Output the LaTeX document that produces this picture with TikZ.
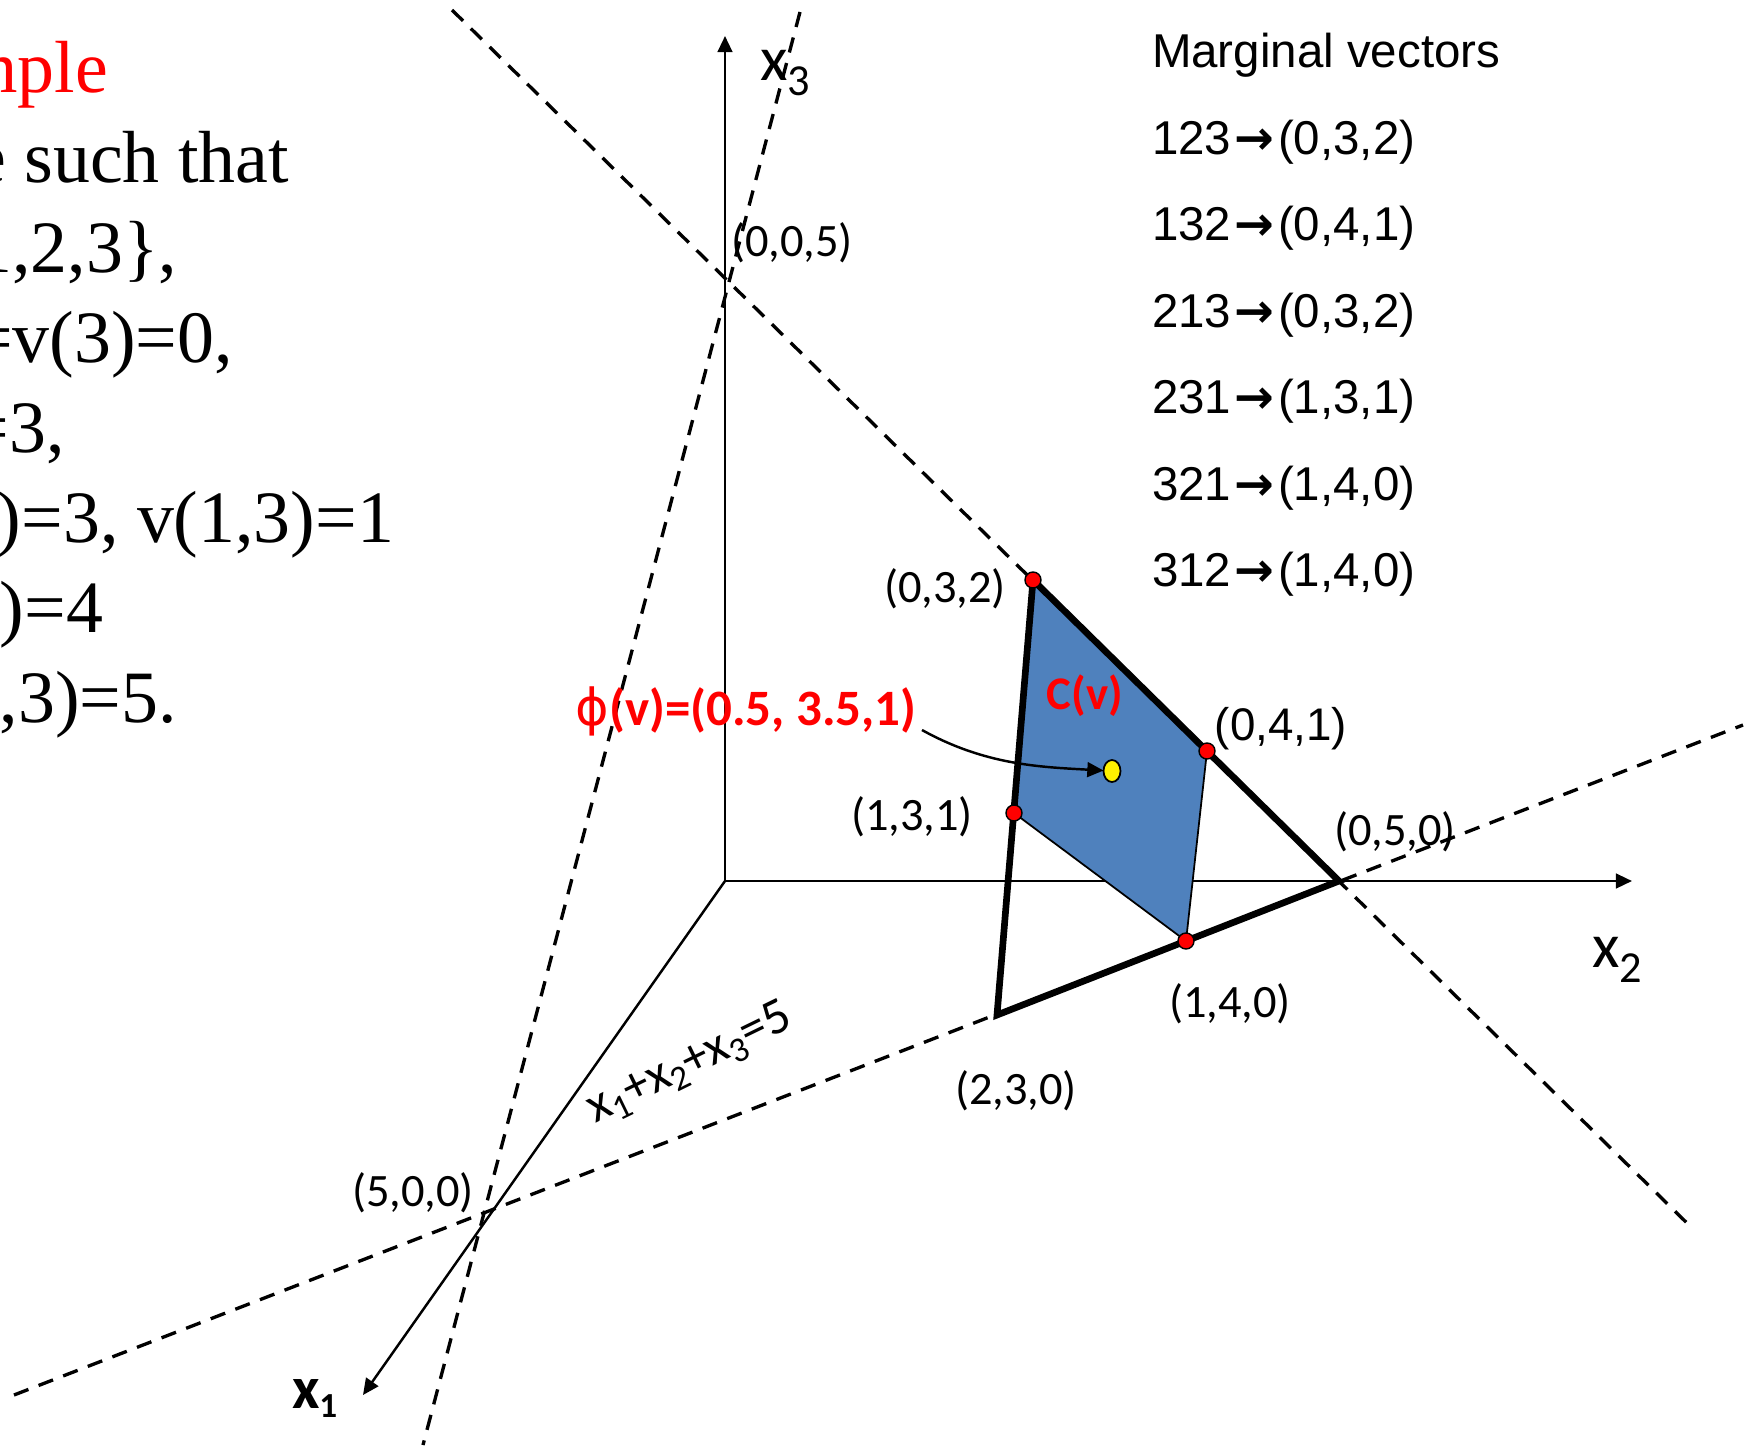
\documentclass[tikz,border=0pt]{standalone}
\usepackage{fontspec}
\setmainfont{Carlito}
\newfontfamily\serifrm{Liberation Serif}
\newfontfamily\arialrm{Liberation Sans}
\newfontfamily\symrm{DejaVu Sans}
\usetikzlibrary{arrows.meta, shapes.geometric}
\definecolor{core-blue}{HTML}{4F81BD}
\definecolor{title-red}{HTML}{FF0000}
\newcommand{\axsub}[3]{\raisebox{#1}{\fontsize{#2}{#2}\selectfont #3}}
\newcommand{\mvarrow}{\kern1pt{\symrm\bfseries →}\kern1pt}

\begin{document}
\begin{tikzpicture}[x=0.01cm, y=-0.01cm,
      every node/.style={inner sep=0pt, outer sep=0pt},
      axis/.style={line width=0.7pt, -{Triangle[length=4.6pt, width=4.2pt]}},
      plane/.style={line width=0.95pt, dash pattern=on 4.4pt off 3.1pt},
      edge/.style={line width=1.9pt},
      vertex/.style={circle, draw, fill=red, line width=0.4pt, minimum size=0.16cm},
      point/.style={font=\fontsize{13.2}{15}\selectfont},
      margvec/.style={anchor=base west, font=\arialrm\fontsize{13.5}{16}\selectfont},
      game/.style={anchor=base east, font=\serifrm\fontsize{21}{25}\selectfont}]
    \useasboundingbox (0,0) rectangle (1754,1448);
    \clip (0,0) rectangle (1754,1448);
    % ---- Game text (cut off at the left edge)
    \node[game, text=title-red] (title) at (108,92) {mple};
    \node[game] (g1) at (289,182) {e such that};
    \node[game] (g2) at (177,272) {1,2,3\},};
    \node[game] (g3) at (233,362) {=v(3)=0,};
    \node[game] (g4) at (65,452) {=3,};
    \node[game] (g5) at (394,542) {)=3, v(1,3)=1};
    \node[game] (g6) at (103,632) {)=4};
    \node[game] (g7) at (177,722) {,3)=5.};
    % ---- Axes
    \coordinate (O) at (725,881);
    \coordinate (e1) at (363,1395);
    \coordinate (e2) at (1632,881);
    \coordinate (e3) at (725,36);
    \draw[axis] (O) -- (e1);
    \draw[axis] (O) -- (e2);
    \draw[axis] (O) -- (e3);
    \node[anchor=base west, font=\fontsize{18}{20}\selectfont] (x3) at (760,80) {x\axsub{-4.3pt}{12.6}{3}};
    \node[anchor=base west, font=\fontsize{18}{20}\selectfont] (x2) at (1592,967) {x\axsub{-4.3pt}{12.6}{2}};
    \node[anchor=base west, font=\bfseries\fontsize{17}{20}\selectfont] (x1) at (292,1408) {x\axsub{-2.8pt}{10}{1}};
    % ---- Plane x1+x2+x3=5
    \coordinate (l1a) at (800,12);
    \coordinate (l1b) at (423,1445);
    \coordinate (l2a) at (452,10);
    \coordinate (l2b) at (1691,1227);
    \coordinate (l3a) at (14,1395);
    \coordinate (l3b) at (1743,725);
    \draw[plane] (l1a) -- (l1b);
    \draw[plane] (l2a) -- (l2b);
    \draw[plane] (l3a) -- (l3b);
    \node[rotate=26, font=\fontsize{14.5}{16}\selectfont] (planelbl) at (690,1064)
      {x\axsub{-2.5pt}{10}{1}+x\axsub{-2.5pt}{10}{2}+x\axsub{-2.5pt}{10}{3}=5};
    % ---- Imputations with x2>=3, and the core
    \coordinate (t032) at (1033,580);
    \coordinate (t230) at (997,1015);
    \coordinate (t050) at (1339,881);
    \coordinate (c041) at (1207,751);
    \coordinate (c140) at (1186,941);
    \coordinate (c131) at (1014,813);
    \filldraw[fill=core-blue, draw=black, line width=0.5pt] (t032) -- (c041) -- (c140) -- (c131) -- cycle;
    \draw[edge] (t032) -- (t230) -- (t050) -- cycle;
    \node[vertex] (d032) at (t032) {};
    \node[vertex] (d041) at (c041) {};
    \node[vertex] (d140) at (c140) {};
    \node[vertex] (d131) at (c131) {};
    \node[ellipse, draw, fill=yellow, line width=0.5pt, minimum width=0.17cm, minimum height=0.22cm] (shap) at (1112,771) {};
    % ---- Point labels
    \node[point] (q005) at (792,243) {(0,0,5)};
    \node[point] (q032) at (945,589) {(0,3,2)};
    \node[point, font=\arialrm\fontsize{13}{15}\selectfont] (q041) at (1281,729) {(0,4,1)};
    \node[point] (q131) at (912,817) {(1,3,1)};
    \node[point] (q050) at (1395,832) {(0,5,0)};
    \node[point] (q140) at (1230,1004) {(1,4,0)};
    \node[point] (q230) at (1016,1091) {(2,3,0)};
    \node[point] (q500) at (413,1193) {(5,0,0)};
    \node[text=title-red, font=\bfseries\fontsize{14.5}{17}\selectfont] (phi) at (746,711) {{\symrm\mdseries ϕ}(v)=(0.5, 3.5,1)};
    \node[text=title-red, font=\bfseries\fontsize{13.3}{16}\selectfont] (core) at (1085,696) {C(v)};
    \coordinate (phistart) at (922,730);
    \draw[line width=0.7pt, -{Triangle[length=4.6pt, width=4.2pt]}] (phistart) .. controls (985,765) and (1040,767) .. (shap);
    % ---- Marginal vectors
    \node[margvec] (mv) at (1152,67) {Marginal vectors};
    \node[margvec] (mv1) at (1152,154) {123\mvarrow(0,3,2)};
    \node[margvec] (mv2) at (1152,240) {132\mvarrow(0,4,1)};
    \node[margvec] (mv3) at (1152,327) {213\mvarrow(0,3,2)};
    \node[margvec] (mv4) at (1152,413) {231\mvarrow(1,3,1)};
    \node[margvec] (mv5) at (1152,500) {321\mvarrow(1,4,0)};
    \node[margvec] (mv6) at (1152,586) {312\mvarrow(1,4,0)};
  \end{tikzpicture}
\end{document}
